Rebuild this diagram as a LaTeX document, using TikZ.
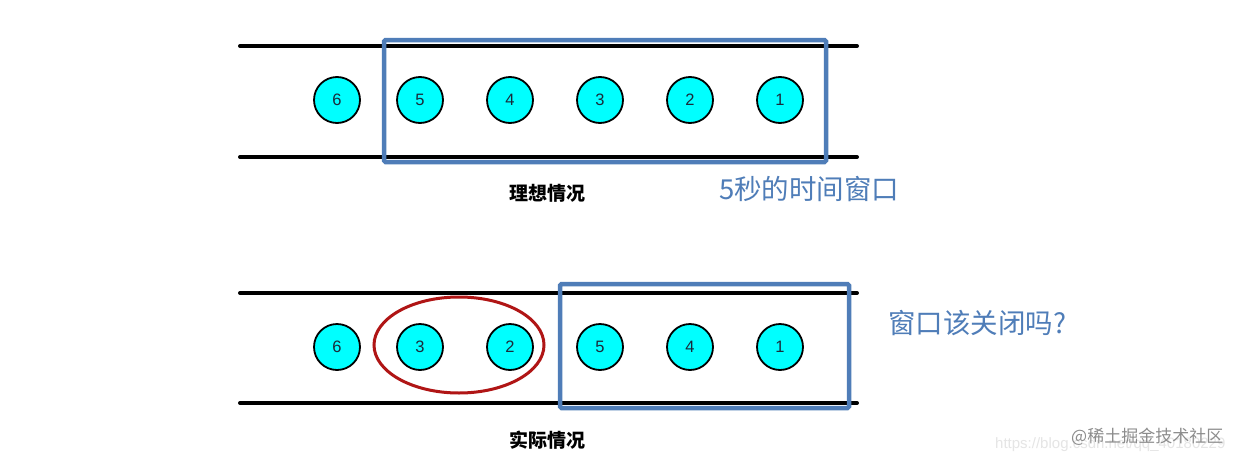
\documentclass[tikz,border=0pt]{standalone}
\usepackage{fontspec}
\setmainfont{Liberation Sans}
\newfontfamily\cjk{Noto Sans CJK SC}
\definecolor{winblue}{HTML}{4F7DB8}
\definecolor{ellred}{HTML}{B01515}
\definecolor{evcyan}{HTML}{00FFFF}
\definecolor{numink}{HTML}{1A2A3A}
\begin{document}
\begin{tikzpicture}[x=1pt,y=-1pt,
  event/.style={circle,draw=black,line width=1.8pt,fill=evcyan,minimum size=46pt,inner sep=0pt,text=numink,font=\fontsize{16.5}{16.5}\selectfont},
  rail/.style={line width=4pt,line cap=round},
  window/.style={draw=winblue,line width=4.5pt,rounded corners=1.5pt},
  caption/.style={font=\cjk\bfseries\fontsize{19}{19}\selectfont,text=black},
  note/.style={font=\cjk\fontsize{27.5}{27.5}\selectfont,text=winblue,anchor=west,inner sep=0pt}]
\useasboundingbox (0,0) rectangle (1247,463);
\fill[white] (0,0) rectangle (1247,463);
% top: ideal
\coordinate (t1a) at (240,46); \coordinate (t1b) at (857,46);
\coordinate (t2a) at (240,157); \coordinate (t2b) at (857,157);
\draw[rail] (t1a) -- (t1b);
\draw[rail] (t2a) -- (t2b);
\node[event] (a6) at (337,100) {6};
\node[event] (a5) at (420,100) {5};
\node[event] (a4) at (510,100) {4};
\node[event] (a3) at (600,100) {3};
\node[event] (a2) at (690,100) {2};
\node[event] (a1) at (780,100) {1};
\draw[window] (384,40) rectangle (826,162);
\node[caption] (capA) at (547,193) {理想情况};
\node[note] (noteA) at (719,189) {5秒的时间窗口};
% bottom: actual
\coordinate (b1a) at (240,293); \coordinate (b1b) at (857,293);
\coordinate (b2a) at (240,403); \coordinate (b2b) at (857,403);
\draw[rail] (b1a) -- (b1b);
\draw[rail] (b2a) -- (b2b);
\node[event] (c6) at (337,347) {6};
\node[event] (c3) at (420,347) {3};
\node[event] (c2) at (510,347) {2};
\node[event] (c5) at (600,347) {5};
\node[event] (c4) at (690,347) {4};
\node[event] (c1) at (780,347) {1};
\draw[ellred,line width=3pt] (459,345) ellipse [x radius=85, y radius=48];
\draw[window] (560,284) rectangle (849,408);
\node[caption] (capB) at (547,440) {实际情况};
\node[note] (noteB) at (888,323) {窗口该关闭吗?};
% watermark
\node[anchor=west,inner sep=0pt,text=black!10,font=\fontsize{15}{15}\selectfont] (url) at (995,445) {https://blog.csdn.net/qq\_40180229};
\node[anchor=west,inner sep=0pt,text=black!45,font=\cjk\fontsize{17}{17}\selectfont] (wm) at (1071,437) {@稀土掘金技术社区};
\end{tikzpicture}
\end{document}
